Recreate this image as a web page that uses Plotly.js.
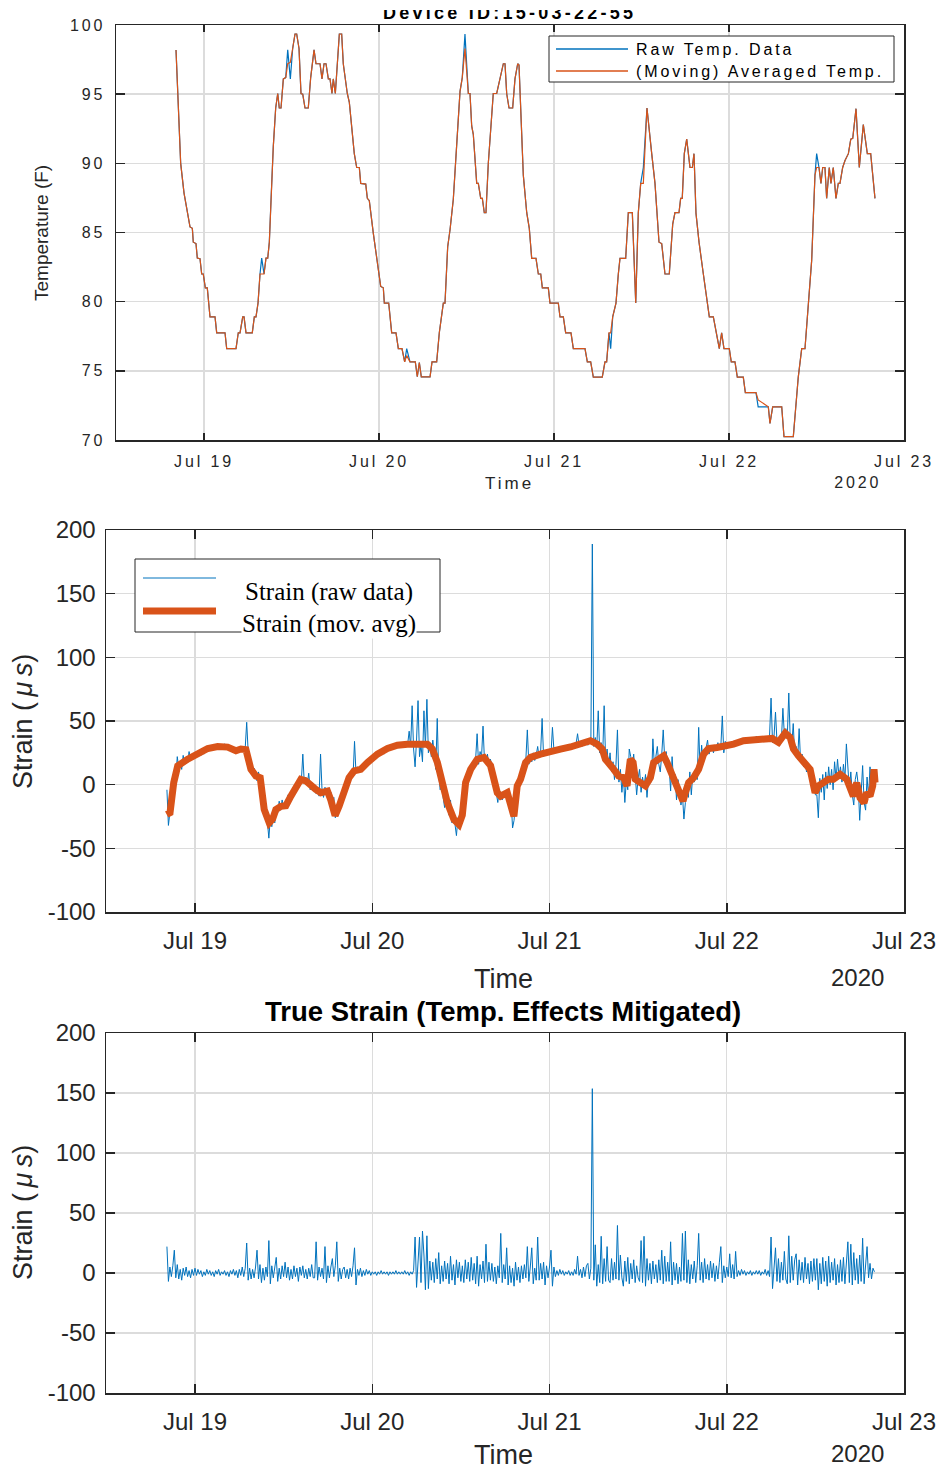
<!DOCTYPE html>
<html>
<head>
<meta charset="utf-8">
<script src="https://cdn.plot.ly/plotly-3.0.1.min.js"></script>
<style>
  html, body { margin: 0; padding: 0; background: #fff; }
  #wrap { position: relative; width: 941px; height: 1469px; overflow: hidden; }
  #chart { width: 941px; height: 1469px; }
  #titleMask { position: absolute; left: 300px; top: 0; width: 420px; height: 10px; background: #fff; }
</style>
</head>
<body>
<div id="wrap">
  <div id="chart"></div>
  <div id="titleMask"></div>
</div>
<script>
// ---------------------------------------------------------------
// Data (hours are counted from 2020-07-18 00:00)
// ---------------------------------------------------------------
const dayTickDates = ['2020-07-19', '2020-07-20', '2020-07-21', '2020-07-22', '2020-07-23'];
const dayTickLabels = ['Jul 19', 'Jul 20', 'Jul 21', 'Jul 22', 'Jul 23'];
const strainTickValues = [-100, -50, 0, 50, 100, 150, 200];
const strainTickLabels = ['-100', '-50', '0', '50', '100', '150', '200'];

// Temperature samples (F)
const tempHours = [
  20.16, 20.48, 20.80, 21.26, 21.71, 22.08, 22.40, 22.53, 22.90, 23.08,
  23.45, 23.68, 23.90, 24.18, 24.45, 24.82, 25.51, 25.74, 26.88, 27.11,
  28.39, 28.70, 28.94, 29.31, 29.49, 29.76, 30.62, 30.90, 31.13, 31.41,
  31.68, 31.91, 32.23, 32.50, 32.74, 32.96, 33.19, 33.50, 33.83, 34.11,
  34.32, 34.56, 34.88, 35.21, 35.48, 35.84, 36.16, 36.48, 36.71, 37.03,
  37.30, 37.54, 37.85, 38.30, 38.63, 39.09, 39.36, 39.91, 40.18, 40.46,
  40.73, 41.05, 41.28, 41.55, 41.73, 42.01, 42.56, 42.88, 43.10, 43.65,
  43.93, 44.61, 44.94, 45.30, 45.49, 46.18, 46.40, 46.67, 47.22, 47.90,
  48.23, 48.59, 48.73, 49.33, 49.74, 50.33, 50.65, 51.15, 51.52, 51.80,
  52.25, 52.98, 53.25, 53.53, 53.80, 55.00, 55.27, 55.91, 56.27, 56.82,
  57.05, 57.42, 57.74, 58.19, 58.66, 59.11, 59.42, 59.79, 60.25, 60.48,
  60.71, 60.93, 61.40, 61.62, 61.95, 62.17, 62.44, 62.67, 62.99, 63.67,
  64.14, 64.59, 65.05, 65.28, 65.51, 65.83, 66.33, 66.65, 67.02, 67.20,
  67.79, 68.26, 68.61, 68.94, 69.53, 69.85, 70.18, 70.40, 71.22, 71.45,
  72.59, 72.82, 73.28, 73.60, 74.33, 74.65, 76.25, 76.57, 77.03, 77.39,
  78.62, 78.99, 79.22, 79.54, 79.77, 80.05, 80.50, 80.82, 81.05, 81.83,
  82.19, 82.74, 83.21, 83.56, 83.89, 84.25, 84.75, 85.40, 85.85, 86.40,
  86.77, 87.22, 87.81, 88.28, 88.59, 89.14, 89.37, 89.59, 89.87, 90.20,
  90.65, 90.97, 91.20, 91.47, 91.89, 92.48, 93.30, 93.85, 94.31, 94.67,
  94.99, 95.31, 96.04, 96.31, 96.82, 97.14, 97.96, 98.24, 99.70, 100.00,
  101.39, 101.62, 101.99, 103.23, 103.54, 104.82, 105.50, 105.97, 106.42, 106.87,
  107.34, 107.79, 108.02, 108.34, 108.61, 108.85, 109.16, 109.39, 109.75, 109.98,
  110.30, 110.67, 110.99, 111.22, 111.59, 111.91, 112.37, 112.70, 112.97, 113.42,
  113.87, 114.42, 114.97, 115.43, 116.02
];
const tempRaw = [
  98.2, 94.3, 90.0, 87.85, 86.4, 85.4, 85.3, 84.3, 84.2, 83.15,
  83.1, 82.0, 82.0, 81.0, 81.0, 78.9, 78.9, 77.75, 77.75, 76.6,
  76.6, 77.75, 77.75, 78.9, 78.9, 77.75, 77.75, 78.9, 78.9, 79.9,
  82.0, 83.15, 82.0, 83.15, 83.15, 84.3, 87.35, 91.2, 94.0, 95.05,
  94.0, 94.0, 96.1, 96.2, 98.2, 96.1, 98.3, 99.35, 99.35, 98.3,
  95.05, 95.0, 94.0, 94.0, 96.2, 98.2, 97.2, 97.2, 96.1, 97.2,
  97.2, 96.1, 96.1, 95.05, 96.1, 95.05, 99.35, 99.35, 97.2, 95.05,
  94.4, 90.7, 89.7, 89.7, 88.55, 88.5, 87.47, 87.3, 84.94, 82.5,
  81.1, 81.0, 79.9, 79.9, 77.75, 77.75, 76.6, 76.6, 75.65, 76.6,
  75.65, 75.65, 74.57, 75.6, 74.57, 74.57, 75.65, 75.65, 77.75, 79.9,
  79.9, 83.97, 85.2, 87.4, 91.2, 95.2, 96.2, 99.35, 95.05, 95.05,
  92.7, 92.1, 88.55, 88.55, 87.47, 87.47, 86.43, 86.43, 90.0, 95.05,
  95.05, 96.1, 97.2, 97.2, 95.05, 94.0, 94.0, 96.1, 97.2, 97.1,
  89.15, 86.43, 85.3, 83.13, 83.13, 82.0, 82.0, 81.0, 81.0, 79.9,
  79.9, 78.9, 78.9, 77.75, 77.75, 76.6, 76.6, 75.65, 75.65, 74.55,
  74.55, 75.65, 75.65, 77.75, 76.6, 78.9, 79.9, 82.0, 83.13, 83.13,
  86.43, 86.43, 79.9, 86.43, 88.55, 89.7, 94.0, 90.7, 88.55, 84.3,
  84.2, 82.0, 82.0, 85.6, 86.43, 86.43, 87.47, 87.47, 90.7, 91.75,
  89.7, 89.7, 90.7, 86.4, 84.3, 82.0, 78.9, 78.9, 77.75, 76.6,
  77.75, 76.6, 76.6, 75.65, 75.65, 74.55, 74.55, 73.42, 73.42, 72.4,
  72.4, 71.2, 72.4, 72.4, 70.25, 70.25, 74.55, 76.6, 76.6, 79.9,
  83.0, 89.15, 90.7, 89.7, 88.55, 89.7, 89.7, 87.47, 89.7, 88.55,
  89.7, 87.47, 88.55, 88.55, 89.7, 90.2, 90.7, 91.75, 91.8, 93.95,
  89.7, 92.8, 90.7, 90.7, 87.47
];
const tempAvg = [
  98.2, 94.3, 90.0, 87.85, 86.4, 85.4, 85.3, 84.3, 84.2, 83.15,
  83.1, 82.0, 82.0, 81.0, 81.0, 78.9, 78.9, 77.75, 77.75, 76.6,
  76.6, 77.75, 77.75, 78.9, 78.9, 77.75, 77.75, 78.9, 78.9, 79.9,
  82.0, 82.0, 82.0, 83.15, 83.15, 84.3, 87.35, 91.2, 94.0, 95.05,
  94.0, 94.0, 96.1, 96.2, 97.2, 97.3, 98.3, 99.35, 99.35, 98.3,
  95.05, 95.0, 94.0, 94.0, 96.2, 98.2, 97.2, 97.2, 96.1, 97.2,
  97.2, 96.1, 96.1, 95.05, 96.1, 95.05, 99.35, 99.35, 97.2, 95.05,
  94.4, 90.7, 89.7, 89.7, 88.55, 88.5, 87.47, 87.3, 84.94, 82.5,
  81.1, 81.0, 79.9, 79.9, 77.75, 77.75, 76.6, 76.6, 75.65, 76.1,
  75.65, 75.65, 74.57, 75.6, 74.57, 74.57, 75.65, 75.65, 77.75, 79.9,
  79.9, 83.97, 85.2, 87.4, 91.2, 95.2, 96.2, 98.3, 95.05, 95.05,
  92.7, 92.1, 88.55, 88.55, 87.47, 87.47, 86.43, 86.43, 90.0, 95.05,
  95.05, 96.1, 97.2, 97.2, 95.05, 94.0, 94.0, 96.1, 97.2, 97.1,
  89.15, 86.43, 85.3, 83.13, 83.13, 82.0, 82.0, 81.0, 81.0, 79.9,
  79.9, 78.9, 78.9, 77.75, 77.75, 76.6, 76.6, 75.65, 75.65, 74.55,
  74.55, 75.65, 75.65, 77.75, 77.75, 78.9, 79.9, 82.0, 83.13, 83.13,
  86.43, 86.43, 79.9, 86.43, 88.55, 88.55, 94.0, 90.7, 88.55, 84.3,
  84.2, 82.0, 82.0, 85.6, 86.43, 86.43, 87.47, 87.47, 90.7, 91.75,
  89.7, 89.7, 90.7, 86.4, 84.3, 82.0, 78.9, 78.9, 77.75, 76.6,
  77.75, 76.6, 76.6, 75.65, 75.65, 74.55, 74.55, 73.42, 73.42, 72.9,
  72.4, 71.2, 72.4, 72.4, 70.25, 70.25, 74.55, 76.6, 76.6, 79.9,
  83.0, 89.15, 89.7, 89.7, 88.55, 89.7, 89.7, 87.47, 89.7, 88.55,
  89.7, 87.47, 88.55, 88.55, 89.7, 90.2, 90.7, 91.75, 91.8, 93.95,
  89.7, 92.8, 90.7, 90.7, 87.47
];

// Strain sensor: one sample every 0.2 h starting at hour 20.2 (rows of 4 h)
const strainStartHour = 20.2;
const strainStepHour = 0.2;
const strainRaw = [
  -4, -32, -22, -12, -3, 8, 4, 22, 13, 18, 12, 23, 16, 21, 17, 26, 19, 24, 21, 25,
  22, 26, 25, 23, 28, 24, 27, 30, 26, 29, 31, 27, 30, 28, 32, 29, 31, 28, 30, 32,
  31, 28, 30, 27, 29, 26, 28, 25, 27, 29, 26, 28, 27, 29, 49, 26, 17, 20, 10, 13,
  8, 3, 10, 2, -6, -14, -20, -24, -29, -42, -26, -33, -24, -30, -18, -22, -13, -20, -12, -18,
  -14, -19, -8, -12, -6, -10, -3, -5, 0, 2, 6, 3, 24, 1, 6, 0, 9, -4, 2, -5,
  0, -7, -2, -9, 24, -4, -10, -2, -8, -3, -12, -6, -15, -10, -26, -19, -24, -14, -8, -12,
  -6, 2, -1, 8, 3, 10, 6, 34, 9, 14, 10, 15, 11, 17, 13, 19, 16, 21, 18, 22,
  21, 24, 22, 26, 23, 25, 27, 24, 28, 26, 29, 27, 30, 28, 31, 29, 32, 30, 31, 33,
  30, 33, 31, 32, 42, 30, 62, 28, 14, 35, 66, 22, 31, 18, 58, 30, 67, 25, 33, 22,
  35, 24, 12, 52, 8, -4, 3, -10, -18, -8, -16, -24, -12, -30, -22, -32, -40, -26, -35, -24,
  -29, -12, 4, -2, 8, 14, 10, 18, 13, 20, 40, 16, 26, 22, 46, 18, 17, 24, 14, 20,
  15, 8, 2, -8, -14, -4, -9, -12, -5, -9, -6, -14, -20, -12, -34, -28, -8, 2, -4, 6,
  8, 14, 11, 20, 43, 16, 22, 18, 25, 19, 23, 30, 21, 26, 52, 22, 27, 24, 28, 25,
  24, 45, 27, 25, 29, 26, 28, 30, 27, 29, 31, 28, 30, 29, 31, 28, 30, 32, 40, 31,
  33, 30, 35, 32, 34, 31, 36, 33, 189, 30, 37, 29, 58, 25, 33, 22, 62, 18, 28, 14,
  25, 10, 18, 4, 16, 43, 2, 12, -6, 8, -14, 3, -4, 28, 22, 14, 24, 6, -8, 5,
  12, -6, 6, -2, 8, -10, 4, 10, 2, 36, 15, 22, 30, 16, 10, 24, 43, 20, 26, 14,
  14, -5, 22, 2, 8, -12, 4, -6, -16, -8, -27, -14, -4, -10, 10, -8, 8, 2, 12, 4,
  45, 10, 31, 16, 22, 28, 35, 24, 27, 31, 25, 30, 27, 33, 28, 30, 54, 25, 34, 28,
  33, 29, 31, 30, 33, 31, 34, 32, 33, 35, 32, 34, 36, 33, 35, 37, 34, 36, 35, 38,
  36, 34, 37, 35, 38, 36, 37, 35, 39, 68, 33, 38, 57, 34, 36, 31, 35, 60, 39, 44,
  38, 72, 35, 30, 48, 24, 30, 20, 44, 18, 24, 14, 20, 10, 16, 8, 12, 2, 6, -8,
  -8, -26, 5, -6, 8, -12, 10, -3, 14, 0, 12, -4, 18, 4, 20, 6, 14, 2, 16, 4,
  32, 8, -4, 10, -8, -16, 4, 10, 0, -28, -6, 15, -14, -20, 6, -10, 14, -6, 2, 12
];
const strainTrue = [
  22, -7, 5, -3, 6, 19, -4, 7, -5, 3, -6, 4, -2, 5, -3, 2, -4, 3, -2, 4,
  -2, 3, -1, 2, -3, 1, -2, 3, -1, 2, -2, 1, -3, 2, -1, 3, -2, 1, -1, 2,
  -2, 1, -3, 2, -1, 3, -2, 2, -4, 3, -2, 5, -3, 4, 25, -6, 4, -5, 3, -4,
  5, 19, -5, 7, -8, 4, -6, 5, -3, 27, -9, 6, -4, 5, 13, -7, 4, -5, 6, -3,
  9, -4, 5, -6, 3, -5, 6, -3, 4, -7, 5, -2, 6, -4, 3, -5, 4, -3, 7, -4,
  -4, 26, -6, 5, -3, 4, -5, 22, -8, 6, -4, 5, 12, -3, 6, 26, -7, 4, -5, 3,
  5, -4, 3, -5, 4, -3, 6, 21, -10, 3, -2, 4, -3, 2, -2, 3, -1, 2, -2, 1,
  -1, 1, -2, 1, -1, 2, -1, 1, -1, 1, -2, 1, -1, 1, -1, 2, -1, 1, -1, 1,
  -1, 2, -1, 1, -2, 1, -1, 2, 30, -12, 6, 30, -8, 35, 15, -14, 31, -13, 10, -6,
  9, -8, 12, -5, 17, -9, 6, -7, 10, -5, 8, -9, 14, -6, 7, -10, 11, -4, 9, -7,
  6, -8, 11, -5, 9, -7, 13, -6, 8, -9, 14, -11, 7, -5, 10, -8, 24, -7, 9, -6,
  8, -7, 5, -9, 6, -4, 33, -8, 7, -5, 21, -10, 6, -8, 4, -11, 9, -6, 5, -8,
  6, -5, 7, -4, 22, -7, 5, 21, -9, 4, -6, 30, -6, 8, -5, 9, -10, 6, -4, 5,
  19, -11, 5, -3, 2, -2, 3, -1, 2, -2, 1, -1, 2, -2, 1, -2, 3, -1, 14, -2,
  3, -4, 5, -3, 6, 8, -5, 4, 153.6, -6, 23.5, -11, 7, -8, 30.6, -9, 12, -7, 22, -6,
  -8, 12, -6, 9, -5, 39.6, -6, 15, -4, -11, 10, -7, 13, -9, 8, -5, 11, -8, 6, -4,
  -7, 27, -8, 30.6, -11, 12, -6, 8, -9, 10, -5, 7, -8, 11, -6, 19, -9, 14, -7, 9,
  -7, 26, -10, 9, -6, 8, -9, 5, -7, 33, -6, 35, -8, 11, -9, 7, -5, 10, -8, 6,
  33, -6, 9, -8, 12, -5, 7, -6, 10, -4, 8, -7, 6, -5, 9, 22, -8, 6, -4, 5,
  -3, 16, -4, 7, -5, 18, -3, 2, -2, 3, -1, 2, -2, 1, -1, 2, -2, 1, -1, 2,
  -1, 2, -2, 1, -1, 3, -2, 2, -3, 30, -13, 6, 21, -7, 12, -8, 9, -6, 18, -5,
  -9, 31, -8, 14, -6, 11, 16, -10, 11, -6, 9, -8, 13, -5, 8, -9, 10, -7, 12, -6,
  12, -14, 8, -9, 13, -7, 10, -11, 14, -8, 9, -6, 12, -10, 7, -8, 11, -7, 13, -9,
  11, 26, -8, 24, -10, 17, -6, 12, -9, 15, -7, 29, -9, 10, 22, -4, 8, -5, 4, 1
];

// Moving average of the strain signal
const strainAvgHours = [
  20.17, 20.62, 21.12, 21.66, 23.01, 24.37, 25.72, 27.07, 28.42, 29.54,
  30.22, 30.90, 31.57, 32.25, 32.83, 33.37, 34.05, 34.51, 34.95, 35.63,
  36.30, 36.98, 37.66, 38.33, 39.01, 39.68, 40.36, 41.04, 41.94, 42.39,
  42.97, 43.51, 44.19, 44.86, 45.54, 46.44, 47.35, 48.70, 50.06, 51.41,
  52.76, 54.11, 55.46, 56.14, 56.82, 57.49, 58.17, 59.06, 59.74, 60.19,
  60.64, 61.32, 62.22, 63.12, 64.02, 64.93, 65.38, 66.28, 66.73, 67.18,
  67.63, 68.08, 68.76, 69.43, 70.78, 72.14, 73.49, 74.84, 76.19, 77.54,
  78.45, 79.13, 79.57, 80.02, 80.70, 81.37, 82.05, 82.50, 82.95, 83.32,
  83.63, 84.30, 84.98, 85.66, 86.10, 86.78, 87.46, 87.91, 88.59, 89.26,
  90.08, 90.39, 90.84, 91.52, 92.19, 92.87, 93.54, 94.68, 96.03, 96.92,
  98.27, 100.08, 101.43, 102.15, 103.00, 103.91, 104.59, 105.03, 105.71, 106.61,
  107.29, 107.96, 108.41, 109.09, 109.76, 110.44, 111.35, 112.25, 113.14, 113.60,
  114.05, 114.59, 114.95, 115.40, 115.76, 115.94, 116.08
];
const strainAvg = [
  -23.4, -22, 1.6, 14.7, 20, 24, 28.4, 30, 29.5, 26.6,
  28, 27.5, 12.1, 6.8, 5.5, -19.5, -30, -27, -19.5, -17,
  -16.5, -9, -2.4, 4.2, 3, -1, -3.7, -6.3, -5, -12,
  -24.2, -17, -3.7, 5.5, 10.8, 12, 17.4, 24, 28.4, 31,
  31.8, 31.8, 31.8, 28, 17.4, 1.6, -14.2, -27.4, -31.3, -24,
  1.6, 12, 20, 21.3, 15, -6.3, -9, -6.3, -17, -24.8,
  -1, 4.2, 17.4, 21.4, 24, 26.6, 27.9, 29.6, 31.8, 34.5,
  31.8, 28, 20, 17.4, 12, 6.8, 5.5, -1, 20, 17.4,
  4.2, 1.6, -1, 5.5, 17.4, 20, 22.6, 17.4, 6.8, -1,
  -12.9, -6.3, 1.6, 5.5, 12, 24, 28.4, 29.2, 30, 31.8,
  34.5, 35.8, 36.3, 36.3, 33.2, 40.5, 37, 28, 22.6, 17.4,
  12, -6.3, -1, 1.6, 4.2, 4.2, 8.1, 4.2, -9, 1.6,
  -10.4, -14.2, -6.3, -9, -1, 12, 1.6
];

// ---------------------------------------------------------------
// Helpers
// ---------------------------------------------------------------
const W = 941, H = 1469;
const BASE_MS = Date.UTC(2020, 6, 18, 0, 0, 0);
function hourToDate(h) {
  return new Date(BASE_MS + Math.round(h * 3600000)).toISOString().replace('T', ' ').slice(0, 19);
}
const fx = (x) => x / W;          // page x (px) -> paper
const fy = (y) => 1 - y / H;      // page y (px) -> paper

const BLUE = '#0072BD';
const ORANGE = '#D95319';
const INK = '#262626';
const SANS = 'Liberation Sans, Arial, Helvetica, sans-serif';
const NARROW = 'Liberation Sans Narrow, Arial Narrow, Liberation Sans, sans-serif';
const SERIF = 'Liberation Serif, Times New Roman, serif';

const strainRawTimes = strainRaw.map((_, i) => hourToDate(strainStartHour + i * strainStepHour));
const strainTrueTimes = strainTrue.map((_, i) => hourToDate(strainStartHour + i * strainStepHour));

// ---------------------------------------------------------------
// Traces
// ---------------------------------------------------------------
const traces = [
  { x: tempHours.map(hourToDate), y: tempRaw, xaxis: 'x', yaxis: 'y', type: 'scatter', mode: 'lines',
    line: { color: BLUE, width: 1.2 }, showlegend: false, hoverinfo: 'skip' },
  { x: tempHours.map(hourToDate), y: tempAvg, xaxis: 'x', yaxis: 'y', type: 'scatter', mode: 'lines',
    line: { color: ORANGE, width: 1.2 }, showlegend: false, hoverinfo: 'skip' },
  { x: strainRawTimes, y: strainRaw, xaxis: 'x2', yaxis: 'y2', type: 'scatter', mode: 'lines',
    line: { color: BLUE, width: 1 }, showlegend: false, hoverinfo: 'skip' },
  { x: strainAvgHours.map(hourToDate), y: strainAvg, xaxis: 'x2', yaxis: 'y2', type: 'scatter', mode: 'lines',
    line: { color: ORANGE, width: 7 }, showlegend: false, hoverinfo: 'skip' },
  { x: strainTrueTimes, y: strainTrue, xaxis: 'x3', yaxis: 'y3', type: 'scatter', mode: 'lines',
    line: { color: BLUE, width: 1 }, showlegend: false, hoverinfo: 'skip' }
];

// ---------------------------------------------------------------
// Axes
// ---------------------------------------------------------------
function frame(extra) {
  return Object.assign({
    showline: true, mirror: 'allticks', linecolor: INK, linewidth: 1.5,
    ticks: 'inside', tickcolor: INK, tickwidth: 1.5,
    showgrid: true, gridcolor: '#dcdcdc', gridwidth: 1.4,
    zeroline: false, fixedrange: true
  }, extra);
}
function timeAxis(domain, anchor, startHour, fontSize, len, standoff) {
  return frame({
    type: 'date', domain: domain, anchor: anchor,
    range: [hourToDate(startHour), hourToDate(120)],
    tickmode: 'array', tickvals: dayTickDates, ticktext: dayTickLabels,
    ticklen: len, ticklabelstandoff: standoff,
    tickfont: { family: SANS, size: fontSize, color: INK }
  });
}
const layout = {
  width: W, height: H,
  margin: { l: 0, r: 0, t: 0, b: 0 },
  paper_bgcolor: '#fff', plot_bgcolor: '#fff',
  showlegend: false,
  xaxis:  timeAxis([fx(116), fx(904)], 'y', 11.93, 16, 7, 6),
  yaxis:  frame({ domain: [fy(440), fy(25)], anchor: 'x', range: [70, 100], dtick: 5, tick0: 70,
                  ticklen: 9, ticklabelstandoff: 6, tickfont: { family: SANS, size: 16, color: INK } }),
  xaxis2: timeAxis([fx(106), fx(904)], 'y2', 11.95, 24, 9, 7),
  yaxis2: frame({ domain: [fy(912), fy(530)], anchor: 'x2', range: [-100, 200],
                  tickmode: 'array', tickvals: strainTickValues, ticktext: strainTickLabels,
                  ticklen: 9, ticklabelstandoff: 4, tickfont: { family: SANS, size: 24, color: INK } }),
  xaxis3: timeAxis([fx(106), fx(904)], 'y3', 11.95, 24, 9, 7),
  yaxis3: frame({ domain: [fy(1393), fy(1033)], anchor: 'x3', range: [-100, 200],
                  tickmode: 'array', tickvals: strainTickValues, ticktext: strainTickLabels,
                  ticklen: 9, ticklabelstandoff: 4, tickfont: { family: SANS, size: 24, color: INK } }),
  shapes: [
    // temperature legend
    { type: 'rect', xref: 'paper', yref: 'paper', layer: 'above',
      x0: fx(549), x1: fx(894), y0: fy(82), y1: fy(36),
      fillcolor: '#fff', line: { color: INK, width: 1 } },
    { type: 'line', xref: 'paper', yref: 'paper', layer: 'above',
      x0: fx(556), x1: fx(628), y0: fy(49), y1: fy(49), line: { color: BLUE, width: 1.5 } },
    { type: 'line', xref: 'paper', yref: 'paper', layer: 'above',
      x0: fx(556), x1: fx(628), y0: fy(71), y1: fy(71), line: { color: ORANGE, width: 1.5 } },
    // strain legend
    { type: 'rect', xref: 'paper', yref: 'paper', layer: 'above',
      x0: fx(135), x1: fx(440), y0: fy(632), y1: fy(559),
      fillcolor: '#fff', line: { color: INK, width: 1 } },
    { type: 'line', xref: 'paper', yref: 'paper', layer: 'above',
      x0: fx(143), x1: fx(216), y0: fy(578), y1: fy(578), line: { color: BLUE, width: 1 } },
    { type: 'line', xref: 'paper', yref: 'paper', layer: 'above',
      x0: fx(143), x1: fx(216), y0: fy(611), y1: fy(611), line: { color: ORANGE, width: 7 } }
  ],
  annotations: [
    // temperature panel
    { text: '<b>Device ID:15-03-22-55</b>', xref: 'paper', yref: 'paper', x: fx(510), y: fy(13),
      xanchor: 'center', yanchor: 'middle', showarrow: false, font: { family: SANS, size: 18, color: '#000' } },
    { text: 'Temperature (F)', xref: 'paper', yref: 'paper', x: fx(42), y: fy(233), textangle: -90,
      xanchor: 'center', yanchor: 'middle', showarrow: false, font: { family: NARROW, size: 19, color: INK } },
    { text: 'Time', xref: 'paper', yref: 'paper', x: fx(510), y: fy(484),
      xanchor: 'center', yanchor: 'middle', showarrow: false, font: { family: SANS, size: 17, color: INK } },
    { text: '2020', xref: 'paper', yref: 'paper', x: fx(858), y: fy(482),
      xanchor: 'center', yanchor: 'middle', showarrow: false, font: { family: SANS, size: 16, color: INK } },
    { text: 'Raw Temp. Data', xref: 'paper', yref: 'paper', x: fx(634), y: fy(50), align: 'left',
      xanchor: 'left', yanchor: 'middle', showarrow: false, font: { family: SANS, size: 16, color: '#000' } },
    { text: '(Moving) Averaged Temp.', xref: 'paper', yref: 'paper', x: fx(634), y: fy(71), align: 'left',
      xanchor: 'left', yanchor: 'middle', showarrow: false, font: { family: SANS, size: 16, color: '#000' } },
    // strain panel
    { text: 'Strain (<i>\u2009μ\u2009s</i>)', xref: 'paper', yref: 'paper', x: fx(23), y: fy(722), textangle: -90,
      xanchor: 'center', yanchor: 'middle', showarrow: false, font: { family: SANS, size: 27, color: INK } },
    { text: 'Time', xref: 'paper', yref: 'paper', x: fx(504), y: fy(979),
      xanchor: 'center', yanchor: 'middle', showarrow: false, font: { family: SANS, size: 27, color: INK } },
    { text: '2020', xref: 'paper', yref: 'paper', x: fx(857), y: fy(977),
      xanchor: 'center', yanchor: 'middle', showarrow: false, font: { family: SANS, size: 24, color: INK } },
    { text: 'Strain (raw data)', xref: 'paper', yref: 'paper', x: fx(329), y: fy(592),
      xanchor: 'center', yanchor: 'middle', showarrow: false, font: { family: SERIF, size: 25, color: '#000' } },
    { text: 'Strain (mov. avg)', xref: 'paper', yref: 'paper', x: fx(329), y: fy(624),
      xanchor: 'center', yanchor: 'middle', showarrow: false, bgcolor: '#fff', borderpad: 0,
      font: { family: SERIF, size: 25, color: '#000' } },
    // true strain panel
    { text: '<b>True Strain (Temp. Effects Mitigated)</b>', xref: 'paper', yref: 'paper', x: fx(503), y: fy(1011),
      xanchor: 'center', yanchor: 'middle', showarrow: false, font: { family: SANS, size: 27.5, color: '#000' } },
    { text: 'Strain (<i>\u2009μ\u2009s</i>)', xref: 'paper', yref: 'paper', x: fx(23), y: fy(1213), textangle: -90,
      xanchor: 'center', yanchor: 'middle', showarrow: false, font: { family: SANS, size: 27, color: INK } },
    { text: 'Time', xref: 'paper', yref: 'paper', x: fx(504), y: fy(1455),
      xanchor: 'center', yanchor: 'middle', showarrow: false, font: { family: SANS, size: 27, color: INK } },
    { text: '2020', xref: 'paper', yref: 'paper', x: fx(857), y: fy(1453),
      xanchor: 'center', yanchor: 'middle', showarrow: false, font: { family: SANS, size: 24, color: INK } }
  ]
};

Plotly.newPlot('chart', traces, layout, { displayModeBar: false, staticPlot: true }).then((gd) => {
  // The temperature panel uses widely spaced lettering
  gd.querySelectorAll('text').forEach((t) => {
    const r = t.getBoundingClientRect();
    if (r.bottom < 500 && t.textContent.indexOf('Temperature') !== 0) {
      t.style.letterSpacing = '0.18em';
    }
  });
});
</script>
</body>
</html>
